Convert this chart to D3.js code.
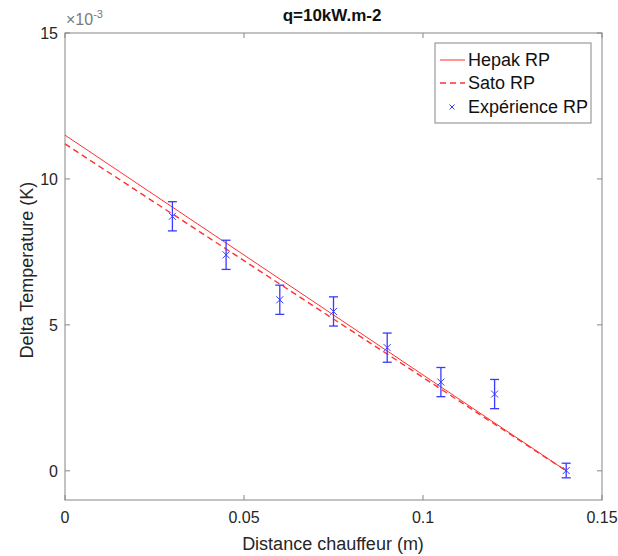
<!DOCTYPE html>
<html>
<head>
<meta charset="utf-8">
<script src="https://cdn.jsdelivr.net/npm/d3@7"></script>
<style>
  body{ margin:0; background:#fff; }
  svg text{ font-family: "Liberation Sans", Arial, sans-serif; }
</style>
</head>
<body>
<div id="chart"></div>
<script>
  // data, y values in units of 1e-3 K
  var distX = [0.03, 0.045, 0.06, 0.075, 0.09, 0.105, 0.12, 0.14]
  var expY  = [8.72, 7.40, 5.86, 5.46, 4.22, 3.04, 2.63, 0.01]
  var expErr = [0.5, 0.5, 0.5, 0.5, 0.5, 0.5, 0.5, 0.25]
  var hepakX = [0, 0.14]
  var hepakY = [11.5, 0]
  var satoX = [0, 0.14]
  var satoY = [11.2, 0]
  var xTicks = [0, 0.05, 0.1, 0.15]
  var yTicks = [0, 5, 10, 15]
  var legendLabels = ["Hepak RP", "Sato RP", "Expérience RP"]

  var width = 618, height = 556
  // note: "top" is taken by window.top, so use plot* names
  var plotL = 65, plotR = 602, plotT = 33, plotB = 500
  var axisCol = "#868686", textCol = "#262626"

  var svg = d3.select("#chart").append("svg")
      .attr("width", width)
      .attr("height", height)

  var xscale = d3.scaleLinear().domain([0, 0.15]).range([plotL, plotR])
  var yscale = d3.scaleLinear().domain([-1, 15]).range([plotB, plotT])

  // axes box
  svg.append("rect")
      .attr("x", plotL).attr("y", plotT)
      .attr("width", plotR-plotL).attr("height", plotB-plotT)
      .attr("fill", "white").attr("stroke", axisCol).attr("stroke-width", 1)

  // ticks on all four sides, pointing in
  var tl = 5
  xTicks.forEach(function(t){
    svg.append("line").attr("x1", xscale(t)).attr("x2", xscale(t))
        .attr("y1", plotB).attr("y2", plotB-tl).attr("stroke", axisCol)
    svg.append("line").attr("x1", xscale(t)).attr("x2", xscale(t))
        .attr("y1", plotT).attr("y2", plotT+tl).attr("stroke", axisCol)
    svg.append("text").attr("x", xscale(t)).attr("y", plotB+23)
        .attr("text-anchor", "middle").attr("font-size", 16).attr("fill", textCol)
        .text(t)
  })
  yTicks.forEach(function(t){
    svg.append("line").attr("x1", plotL).attr("x2", plotL+tl)
        .attr("y1", yscale(t)).attr("y2", yscale(t)).attr("stroke", axisCol)
    svg.append("line").attr("x1", plotR).attr("x2", plotR-tl)
        .attr("y1", yscale(t)).attr("y2", yscale(t)).attr("stroke", axisCol)
    svg.append("text").attr("x", plotL-7).attr("y", yscale(t)+6)
        .attr("text-anchor", "end").attr("font-size", 16).attr("fill", textCol)
        .text(t)
  })

  // exponent label
  var expo = svg.append("text").attr("x", plotL+1).attr("y", 25)
      .attr("font-size", 16).attr("fill", "#7a7a7a")
  expo.append("tspan").text("×10")
  expo.append("tspan").attr("dy", -7).attr("font-size", 11).text("-3")

  // title and axis labels
  svg.append("text").attr("x", 332).attr("y", 21)
      .attr("text-anchor", "middle").attr("font-size", 17).attr("font-weight", "bold")
      .attr("fill", "#111").text("q=10kW.m-2")
  svg.append("text").attr("x", 333).attr("y", 550)
      .attr("text-anchor", "middle").attr("font-size", 18).attr("fill", textCol)
      .text("Distance chauffeur (m)")
  svg.append("text")
      .attr("transform", "translate(33,270) rotate(-90)")
      .attr("text-anchor", "middle").attr("font-size", 18).attr("fill", textCol)
      .text("Delta Temperature (K)")

  var line = d3.line()
      .x(function(d){ return xscale(d[0]) })
      .y(function(d){ return yscale(d[1]) })

  svg.append("path").datum(d3.zip(hepakX, hepakY))
      .attr("d", line).attr("fill", "none")
      .attr("stroke", "#ff3030").attr("stroke-width", 1)
  svg.append("path").datum(d3.zip(satoX, satoY))
      .attr("d", line).attr("fill", "none")
      .attr("stroke", "#ff3030").attr("stroke-width", 1.4)
      .attr("stroke-dasharray", "6,4")

  // error bars
  var eb = svg.append("g").attr("stroke", "#3a3aff").attr("stroke-width", 1.3)
  distX.forEach(function(x, i){
    var cx = xscale(x)
    var y1 = yscale(expY[i]+expErr[i]), y2 = yscale(expY[i]-expErr[i])
    eb.append("line").attr("x1", cx).attr("x2", cx).attr("y1", y1).attr("y2", y2)
    eb.append("line").attr("x1", cx-4.5).attr("x2", cx+4.5).attr("y1", y1).attr("y2", y1)
    eb.append("line").attr("x1", cx-4.5).attr("x2", cx+4.5).attr("y1", y2).attr("y2", y2)
  })
  // x markers
  var mk = svg.append("g").attr("stroke", "#3a3aff").attr("stroke-width", 1)
  distX.forEach(function(x, i){
    var cx = xscale(x), cy = yscale(expY[i]), s = 3.5
    mk.append("line").attr("x1", cx-s).attr("x2", cx+s).attr("y1", cy-s).attr("y2", cy+s)
    mk.append("line").attr("x1", cx-s).attr("x2", cx+s).attr("y1", cy+s).attr("y2", cy-s)
  })

  // legend
  var lg = svg.append("g")
  lg.append("rect").attr("x", 435).attr("y", 43).attr("width", 156).attr("height", 80)
      .attr("fill", "white").attr("stroke", axisCol)
  var ly = [60, 83, 107]
  legendLabels.forEach(function(lab, i){
    if (i == 0){
      lg.append("line").attr("x1", 440).attr("x2", 465).attr("y1", ly[i]).attr("y2", ly[i])
          .attr("stroke", "#ff3030")
    } else if (i == 1){
      lg.append("line").attr("x1", 440).attr("x2", 465).attr("y1", ly[i]).attr("y2", ly[i])
          .attr("stroke", "#ff3030").attr("stroke-width", 1.4).attr("stroke-dasharray", "6,4")
    } else {
      var s = 2.5
      lg.append("line").attr("x1", 452-s).attr("x2", 452+s).attr("y1", ly[i]-s).attr("y2", ly[i]+s)
          .attr("stroke", "#3a3aff")
      lg.append("line").attr("x1", 452-s).attr("x2", 452+s).attr("y1", ly[i]+s).attr("y2", ly[i]-s)
          .attr("stroke", "#3a3aff")
    }
    lg.append("text").attr("x", 468).attr("y", ly[i]+6)
        .attr("font-size", 18).attr("fill", "#111").text(lab)
  })
</script>
</body>
</html>
